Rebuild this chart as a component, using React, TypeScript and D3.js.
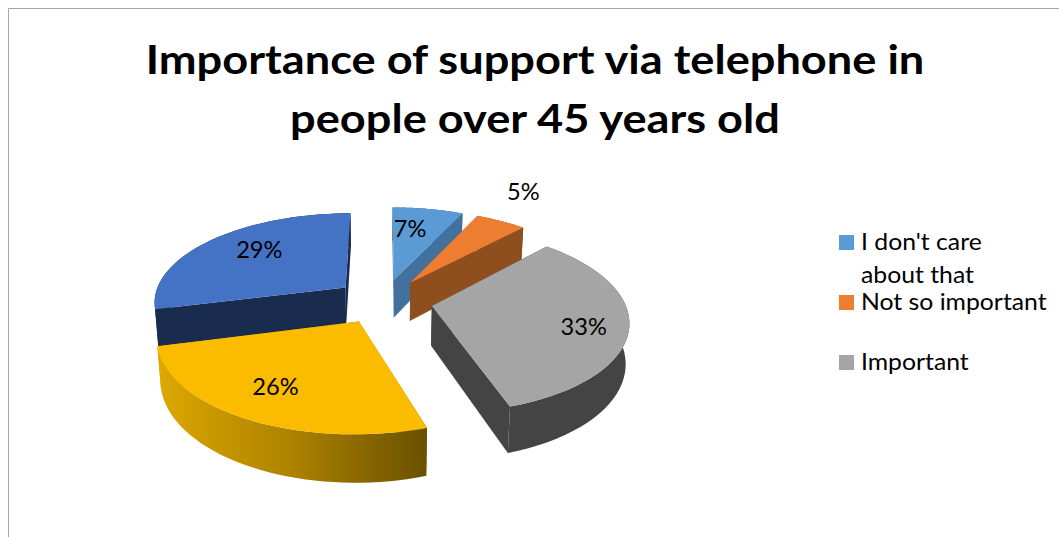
import React from "react";
import * as d3 from "d3";

// Survey shares, clockwise from twelve o'clock
const categories = ["I don't care about that", "Not so important", "Important", "Somewhat important", "Very important"];
const shares = [7, 5, 33, 26, 29];
const titleLines = ["Importance of support via telephone in", "people over 45 years old"];
const legendLines = [["I don't care", "about that"], ["Not so important"], ["Important"]];

const topColors = ["#5B9BD5", "#ED7D31", "#A5A5A5", "#FBBC00", "#4472C4"];
const wallColors = ["#41719C", "#8F4E1D", "#444444", "url(#goldWall)", "#1A2C4E"];

// Back-to-front paint order of the exploded slices
const paintOrder = [0, 1, 4, 2, 3];

// Perspective model of the tilted disc
const cx = 383.5;
const cy = 301;
const radiusX = 192.5;
const radiusY = 89;
const perspective = 0.15;
const explode = 0.255;
const thickness = 39.5;
const depthShrink = 0.015;

const project = (X: number, Y: number, z: number): [number, number] => {
  const w = 1 + perspective * Y;
  return [cx + (radiusX * X) / (w + depthShrink * z), cy - (radiusY * Y) / w + (thickness * z) / w];
};

const slices = d3.pie<number>().sort(null).value((d) => d)(shares);
const line = d3.line();

const onSlice = (mid: number, angle: number, r: number, z: number) =>
  project(explode * Math.sin(mid) + r * Math.sin(angle), explode * Math.cos(mid) + r * Math.cos(angle), z);

// Where each percentage sits inside its slice: [angle fraction across the slice, radius]
const labelSpots: [number, number][] = [[0.34, 0.68], [0.27, 1.49], [0.533, 0.78], [0.52, 0.72], [0.55, 0.69]];

// The chart's text is set slightly wider than the face's natural proportions
const wide = (x: number, y: number, k: number) => `translate(${x},${y}) scale(${k},1)`;

export default function App() {
  return (
    <svg width={1059} height={537} style={{ position: "absolute", left: 0, top: 0, background: "#fff" }}>
      <defs>
        <linearGradient id="goldWall" x1="0" x2="1" y1="0" y2="0">
          <stop offset="0" stopColor="#DDA800" />
          <stop offset="0.5" stopColor="#AC8200" />
          <stop offset="1" stopColor="#6A5000" />
        </linearGradient>
      </defs>
      <path d="M8.5 537V8.5H1059" fill="none" stroke="#A6A6A6" strokeWidth={1} />
      <g fontFamily="Lato" fontWeight={700} fontSize={41} textAnchor="middle" fill="#000">
        {titleLines.map((t, i) => (
          <text key={t} transform={wide(535, 74 + i * 59, 1.102)}>{t}</text>
        ))}
      </g>
      {paintOrder.map((i) => {
        const s = slices[i];
        const mid = (s.startAngle + s.endAngle) / 2;
        const angles = d3.range(0, 41).map((k) => s.startAngle + ((s.endAngle - s.startAngle) * k) / 40);
        const rim = (z: number) => angles.map((a) => onSlice(mid, a, 1, z));
        const apex = (z: number) => onSlice(mid, 0, 0, z);
        const wall = (a: number) => line([apex(0), onSlice(mid, a, 1, 0), onSlice(mid, a, 1, 1), apex(1)]) + "Z";
        return (
          <g key={categories[i]}>
            <path d={wall(s.startAngle)} fill={wallColors[i]} />
            <path d={wall(s.endAngle)} fill={wallColors[i]} />
            <path d={line([...rim(0), ...rim(1).reverse()]) + "Z"} fill={wallColors[i]} />
            <path d={line([apex(0), ...rim(0)]) + "Z"} fill={topColors[i]} />
          </g>
        );
      })}
      <g fontFamily="Lato" fontSize={22.5} textAnchor="middle" fill="#000">
        {slices.map((s, i) => {
          const mid = (s.startAngle + s.endAngle) / 2;
          const a = s.startAngle + (s.endAngle - s.startAngle) * labelSpots[i][0];
          const [x, y] = onSlice(mid, a, labelSpots[i][1], 0);
          return <text key={i} transform={wide(x, y + 8, 1.05)}>{shares[i]}%</text>;
        })}
      </g>
      <g fontFamily="Lato" fontSize={23} fill="#000">
        {legendLines.map((lines, i) => {
          const rowY = [235, 295, 355][i];
          return (
            <g key={i}>
              <rect x={839} y={rowY} width={15} height={15} fill={topColors[i]} />
              {lines.map((t, j) => (
                <text key={t} transform={wide(861, rowY + 15 + j * 33, 1.077)}>{t}</text>
              ))}
            </g>
          );
        })}
      </g>
    </svg>
  );
}
